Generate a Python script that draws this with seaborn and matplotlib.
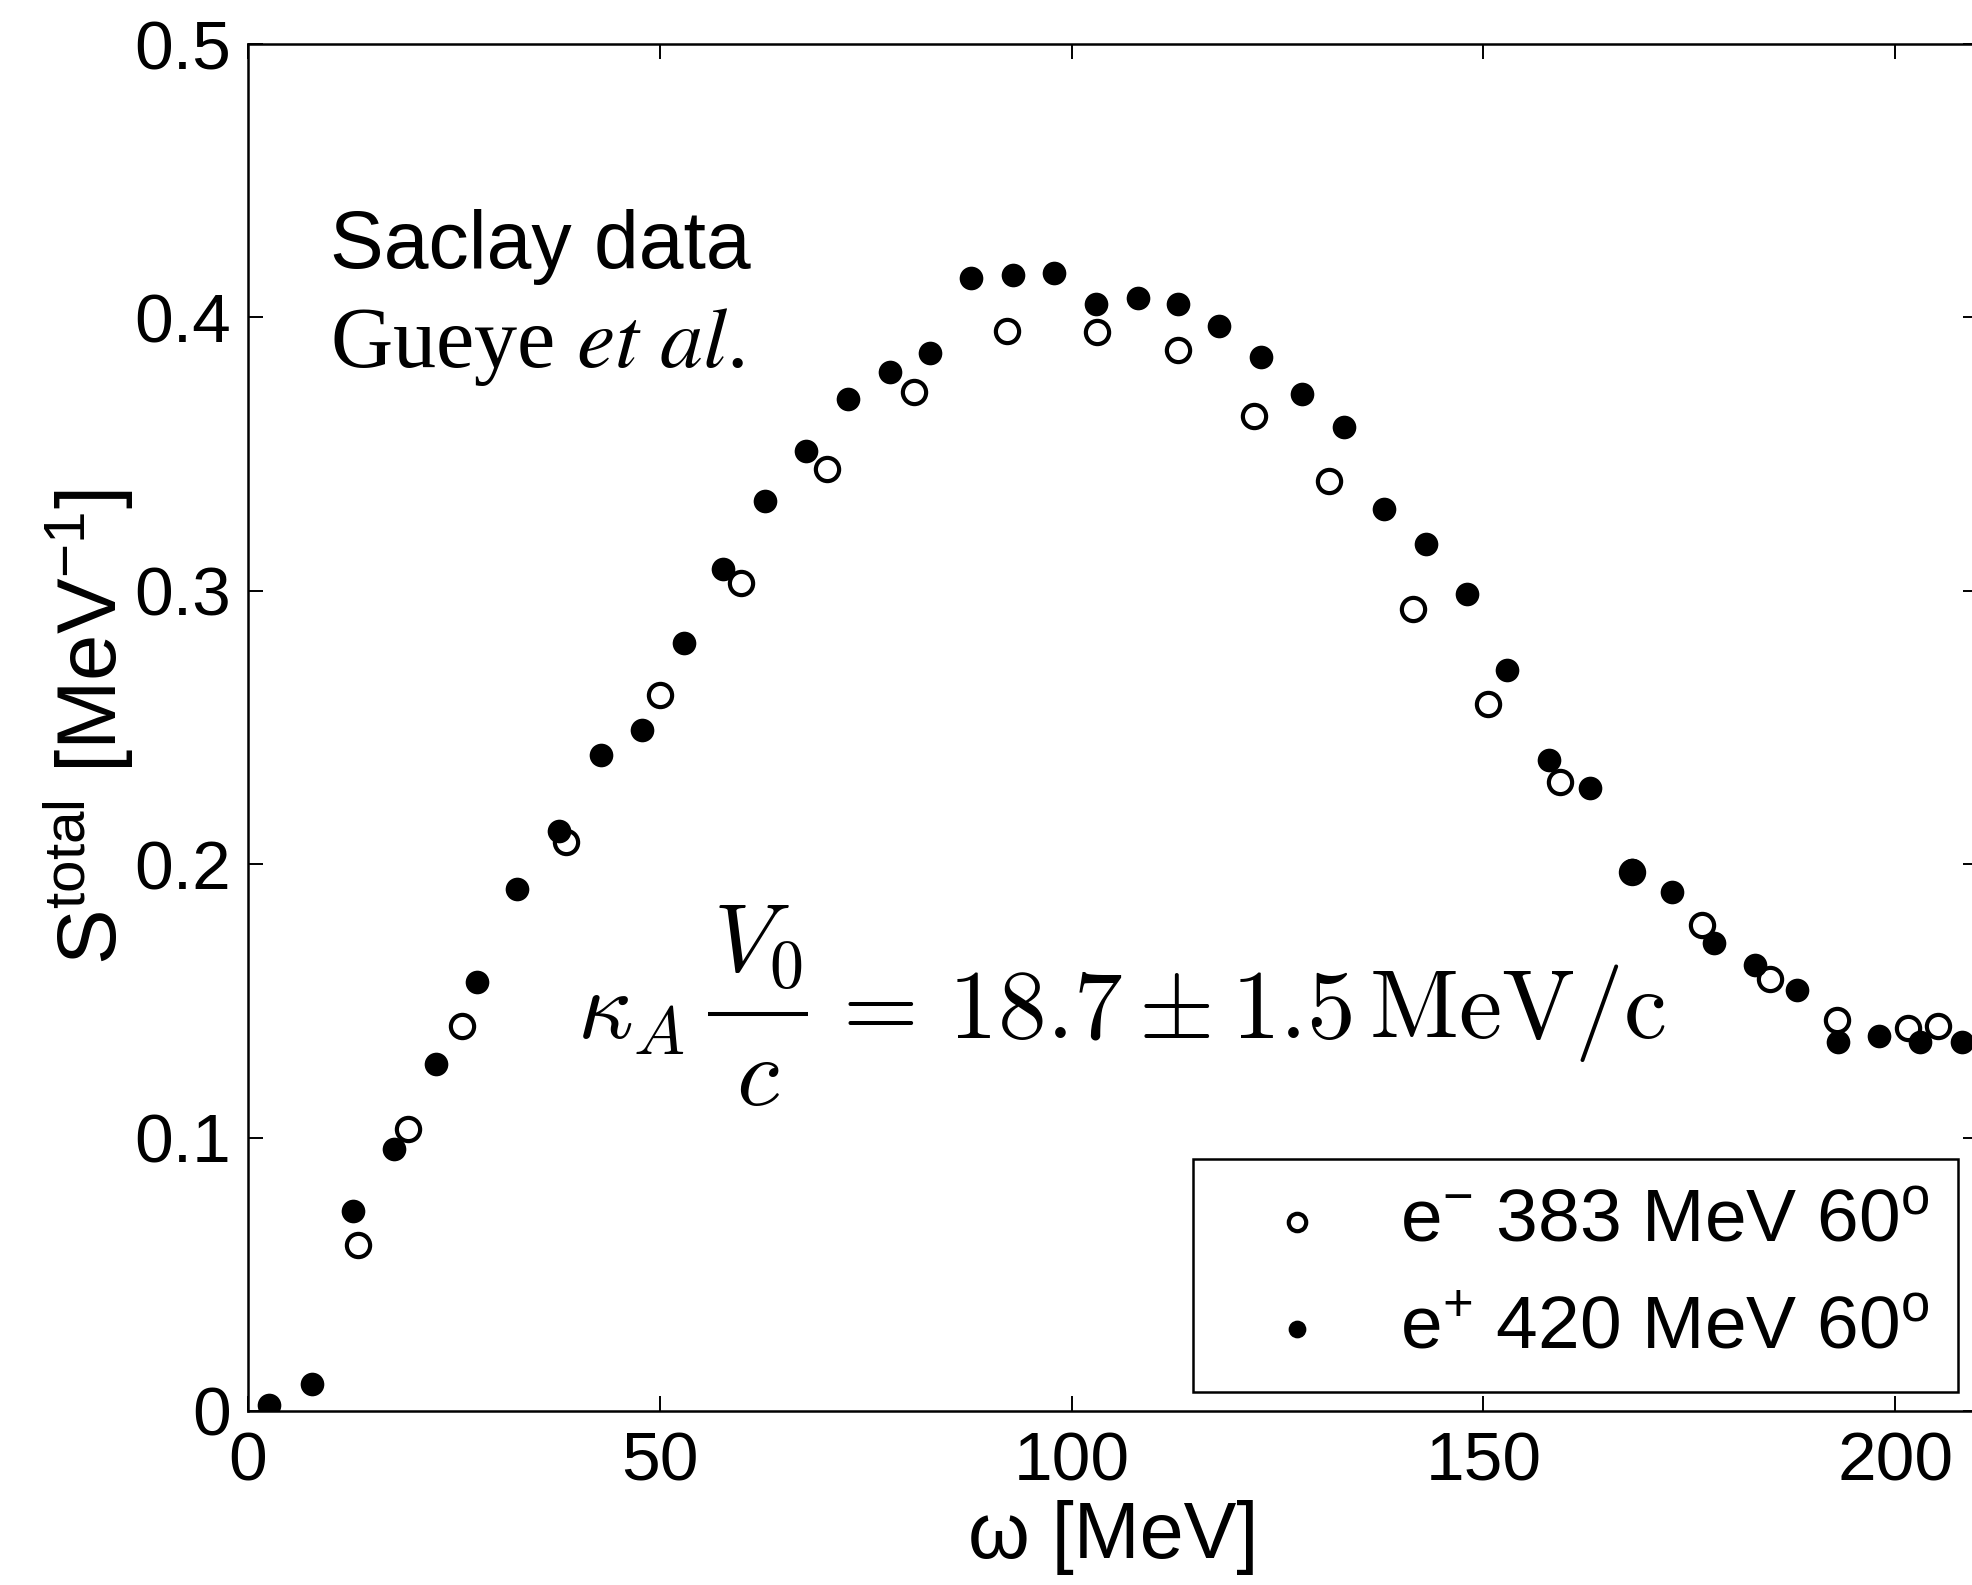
import matplotlib
matplotlib.use("Agg")
import matplotlib.pyplot as plt
import seaborn as sns
import pandas as pd

# Saclay total response, Gueye et al.
# e- beam, 383 MeV, 60 deg (open circles)
omega_em = [13.4, 19.4, 26.0, 38.6, 50.0, 59.9, 70.3, 80.8, 92.1, 103.1,
            112.9, 122.1, 131.2, 141.5, 150.5, 159.3, 168.0, 176.6, 184.8,
            192.9, 201.5, 205.2]
s_em = [0.0607, 0.103, 0.141, 0.208, 0.262, 0.303, 0.3445, 0.3726, 0.395,
        0.3947, 0.388, 0.364, 0.340, 0.2935, 0.2585, 0.230, 0.197, 0.1776,
        0.158, 0.143, 0.140, 0.141]

# e+ beam, 420 MeV, 60 deg (filled dots)
omega_ep = [2.6, 7.8, 12.8, 17.7, 22.8, 27.8, 32.7, 37.7, 42.8, 47.8, 52.9,
            57.7, 62.8, 67.8, 72.9, 77.9, 82.8, 87.8, 92.9, 97.9, 103.0,
            108.0, 112.9, 117.9, 123.0, 128.0, 133.1, 137.9, 143.0, 148.0,
            152.9, 158.0, 163.0, 168.0, 172.9, 178.0, 183.0, 188.1, 193.1,
            198.0, 203.0, 208.1]
s_ep = [0.0023, 0.0097, 0.073, 0.096, 0.127, 0.157, 0.191, 0.212, 0.240,
        0.249, 0.281, 0.308, 0.333, 0.351, 0.370, 0.380, 0.387, 0.4145,
        0.4154, 0.4163, 0.405, 0.407, 0.405, 0.397, 0.3855, 0.372, 0.360,
        0.330, 0.317, 0.299, 0.271, 0.238, 0.228, 0.198, 0.190, 0.171,
        0.163, 0.154, 0.135, 0.137, 0.135, 0.135]

label_em = r"e$^{-}$ 383 MeV 60$^{\rm o}$"
label_ep = r"e$^{+}$ 420 MeV 60$^{\rm o}$"

x_ticks = [0, 50, 100, 150, 200]
x_ticklabels = ["0", "50", "100", "150", "200"]
y_ticks = [0, 0.1, 0.2, 0.3, 0.4, 0.5]
y_ticklabels = ["0", "0.1", "0.2", "0.3", "0.4", "0.5"]

sns.set_style("ticks")
plt.rcParams["font.family"] = ["Liberation Sans", "DejaVu Sans"]
plt.rcParams["mathtext.fontset"] = "custom"
plt.rcParams["mathtext.rm"] = "Liberation Sans"
plt.rcParams["mathtext.it"] = "Liberation Sans:italic"
plt.rcParams["mathtext.bf"] = "Liberation Sans:bold"
for key in ["text.color", "axes.labelcolor", "xtick.color", "ytick.color",
            "axes.edgecolor"]:
    plt.rcParams[key] = "black"

df_em = pd.DataFrame({"omega": omega_em, "S": s_em})
df_ep = pd.DataFrame({"omega": omega_ep, "S": s_ep})

fig = plt.figure(figsize=(19.72, 15.85), dpi=100)
ax = fig.add_axes([0.1258, 0.1098, 0.877, 0.8624])

sns.scatterplot(data=df_em, x="omega", y="S", ax=ax, marker="o", s=280,
                facecolor="white", edgecolor="black", linewidth=3.0,
                label=label_em, zorder=3)
sns.scatterplot(data=df_ep, x="omega", y="S", ax=ax, marker="o", s=290,
                color="black", edgecolor="black", linewidth=0,
                label=label_ep, zorder=4)

ax.set_xlim(0, 210)
ax.set_ylim(0, 0.5)
ax.set_xticks(x_ticks)
ax.set_xticklabels(x_ticklabels)
ax.set_yticks(y_ticks)
ax.set_yticklabels(y_ticklabels)

for sp in ax.spines.values():
    sp.set_visible(True)
    sp.set_linewidth(1.8)
    sp.set_color("black")

ax.tick_params(axis="both", direction="in", length=11, width=1.4,
               top=True, right=True, labelsize=50, colors="black")
ax.tick_params(axis="x", pad=14)
ax.tick_params(axis="y", pad=12)

ax.set_xlabel(r"ω [MeV]", fontsize=57, labelpad=4)
ax.set_ylabel(r"S$^{\rm total}$ [MeV$^{-1}$]", fontsize=60, labelpad=-1)

ax.text(9.9, 0.418, "Saclay data", fontsize=58, ha="left", va="baseline")
ax.text(9.9, 0.3818, r"Gueye $et\ al$.", fontsize=62, ha="left",
        va="baseline", family="Liberation Serif", math_fontfamily="stix")

# kappa_A V0/c result, set in display style (TeX fraction spacing)
fsz = 70
anchor = (40.0, 0.1364)
formula_kw = dict(xy=anchor, xycoords="data", textcoords="offset points",
                  fontsize=fsz, math_fontfamily="cm", va="baseline")
bar_l, bar_r, bar_h = 94.0, 166.0, 0.25 * fsz
ax.annotate(r"$\kappa_A$", xytext=(0, 0), ha="left", **formula_kw)
ax.annotate(r"$V_0$", xytext=(0.5 * (bar_l + bar_r), 0.677 * fsz),
            ha="center", **formula_kw)
ax.annotate(r"$c$", xytext=(0.5 * (bar_l + bar_r), -0.686 * fsz),
            ha="center", **formula_kw)
ax.annotate(r"$=\,18.7\pm1.5\,\mathrm{MeV/c}$", xytext=(178, 0),
            ha="left", **formula_kw)

leg = ax.legend(loc="lower right", bbox_to_anchor=(0.989, 0.0139),
                borderaxespad=0, fontsize=54, frameon=True, fancybox=False,
                framealpha=1, edgecolor="black", borderpad=0.38,
                handlelength=2.0, handletextpad=0.38, labelspacing=0.5,
                markerscale=0.75)
leg.get_frame().set_linewidth(1.8)

fig.canvas.draw()
# fraction bar, placed from the same anchor in display space
x0, y0 = ax.transData.transform(anchor)
pt = fig.dpi / 72.0
xa, ya = ax.transData.inverted().transform((x0 + bar_l * pt, y0 + bar_h * pt))
xb, yb = ax.transData.inverted().transform((x0 + bar_r * pt, y0 + bar_h * pt))
ax.plot([xa, xb], [ya, yb], color="black", lw=2.9, solid_capstyle="butt")

fig.savefig("out.png", dpi=100)
